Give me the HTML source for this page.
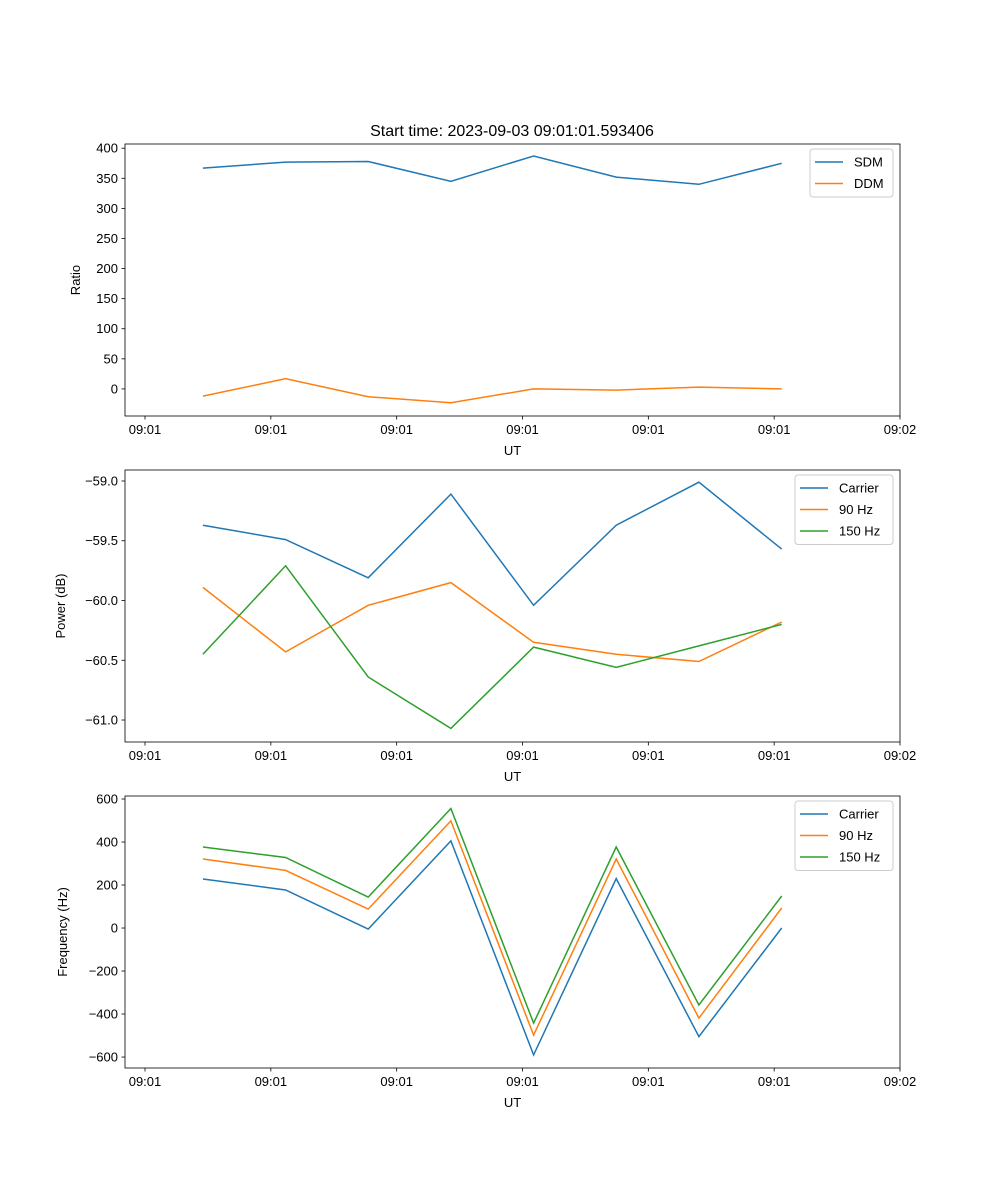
<!DOCTYPE html>
<html><head><meta charset="utf-8"><style>
html,body{margin:0;padding:0;background:#fff;}
svg{display:block;font-family:"Liberation Sans","DejaVu Sans",sans-serif;}
</style></head><body>
<svg id="fig" width="1000" height="1200" xmlns="http://www.w3.org/2000/svg"></svg>
<script>
// shared x data (seconds from arbitrary origin)
const xTimes = [4.6, 11.17, 17.74, 24.31, 30.88, 37.45, 44.02, 50.6];
const xTickVals = [0, 10, 20, 30, 40, 50, 60];
const xTickLabels = ["09:01","09:01","09:01","09:01","09:01","09:01","09:02"];
// panel 1
const sdm = [367, 377, 378, 345, 387, 352, 340, 375];
const ddm = [-12, 17, -13, -23, 0, -2, 3, 0];
const p1Ticks = [0, 50, 100, 150, 200, 250, 300, 350, 400];
// panel 2
const pwCarrier = [-59.37, -59.49, -59.81, -59.11, -60.04, -59.37, -59.01, -59.57];
const pw90 = [-59.89, -60.43, -60.04, -59.85, -60.35, -60.45, -60.51, -60.18];
const pw150 = [-60.45, -59.71, -60.64, -61.07, -60.39, -60.56, -60.38, -60.20];
const p2Ticks = [-61.0, -60.5, -60.0, -59.5, -59.0];
// panel 3
const frCarrier = [228, 177, -5, 405, -590, 230, -505, 0];
const fr90 = [321, 268, 88, 498, -498, 321, -419, 93];
const fr150 = [377, 328, 144, 556, -442, 377, -358, 149];
const p3Ticks = [-600, -400, -200, 0, 200, 400, 600];

const C = ["#1f77b4", "#ff7f0e", "#2ca02c"];
const svg = document.getElementById('fig');
const NS = "http://www.w3.org/2000/svg";
function mk(tag, attrs, parent) {
  const e = document.createElementNS(NS, tag);
  for (const k in attrs) e.setAttribute(k, attrs[k]);
  (parent || svg).appendChild(e);
  return e;
}
const L = 125, R = 900, XMIN = -1.59, XMAX = 60.0;
function xs(v) { return L + (v - XMIN) / (XMAX - XMIN) * (R - L); }

function panel(id, top, bottom, ymin, ymax, yTicks, fmt, ylabel, series, names, legend, yx) {
  const g = mk('g', {});
  
  
  const ys = v => bottom - (v - ymin) / (ymax - ymin) * (bottom - top);
  yTicks.forEach(t => {
    const y = ys(t);
    mk('line', {x1: L - 3.5, x2: L, y1: y, y2: y, stroke: '#000', 'stroke-width': 0.8}, g);
    const tx = mk('text', {x: L - 7, y: y + 4.5, 'text-anchor': 'end', 'font-size': 13}, g);
    tx.textContent = fmt(t);
    
    
  });
  xTickVals.forEach((t, i) => {
    const x = xs(t);
    mk('line', {x1: x, x2: x, y1: bottom, y2: bottom + 3.5, stroke: '#000', 'stroke-width': 0.8}, g);
    const tx = mk('text', {x: x, y: bottom + 18, 'text-anchor': 'middle', 'font-size': 13}, g);
    tx.textContent = xTickLabels[i];
    
    
  });
  const xl = mk('text', {x: (L + R) / 2, y: bottom + 39, 'text-anchor': 'middle', 'font-size': 13}, g);
  xl.textContent = 'UT';
  
  
  const yl = mk('text', {x: yx, y: (top + bottom) / 2, 'text-anchor': 'middle', 'font-size': 13, transform: `rotate(-90 ${yx} ${(top + bottom) / 2})`}, g);
  yl.textContent = ylabel;
  
  
  series.forEach((s, i) => {
    const d = s.map((v, j) => (j ? 'L' : 'M') + xs(xTimes[j]).toFixed(1) + ' ' + ys(v).toFixed(1)).join(' ');
    const p = mk('path', {d: d, fill: 'none', stroke: C[i], 'stroke-width': 1.5}, g);
    
    
  });
  mk('rect', {x: L, y: top, width: R - L, height: bottom - top, fill: 'none', stroke: '#000', 'stroke-width': 0.8}, g);
  const lg = mk('g', {}, g);
  
  
  mk('rect', {x: legend.x, y: top + 5, width: R - 7 - legend.x, height: 21.5 * names.length + 5, rx: 3, fill: '#fff', 'fill-opacity': 0.8, stroke: '#ccc'}, lg);
  names.forEach((n, i) => {
    const y = top + 18 + 21.5 * i;
    mk('line', {x1: legend.x + 5, x2: legend.x + 33, y1: y, y2: y, stroke: C[i], 'stroke-width': 1.5}, lg);
    const t = mk('text', {x: legend.x + 44, y: y + 4.5, 'font-size': 13}, lg);
    t.textContent = n;
    
    
  });
}
const title = mk('text', {x: 512, y: 136, 'text-anchor': 'middle', 'font-size': 16});
title.textContent = 'Start time: 2023-09-03 09:01:01.593406';



panel('ratio-panel', 144, 416, -45, 407, p1Ticks, v => String(v), 'Ratio', [sdm, ddm], ['SDM', 'DDM'], {x: 810}, 80);
panel('power-panel', 470, 742, -61.184, -58.908, p2Ticks, v => '\u2212' + Math.abs(v).toFixed(1), 'Power (dB)', [pwCarrier, pw90, pw150], ['Carrier', '90 Hz', '150 Hz'], {x: 795}, 65);
panel('frequency-panel', 796, 1068, -651, 614, p3Ticks, v => v < 0 ? '\u2212' + Math.abs(v) : String(v), 'Frequency (Hz)', [frCarrier, fr90, fr150], ['Carrier', '90 Hz', '150 Hz'], {x: 795}, 67);
</script>
</body></html>
